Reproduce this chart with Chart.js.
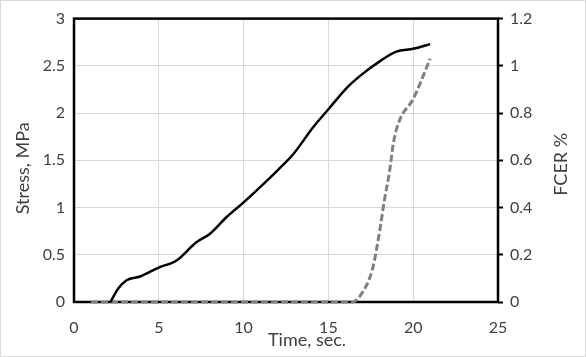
<!DOCTYPE html>
<html>
<head>
<meta charset="utf-8">
<script src="https://cdn.jsdelivr.net/npm/chart.js@4/dist/chart.umd.min.js"></script>
<style>
  html, body { margin: 0; padding: 0; background: #fff; }
  #wrap { width: 586px; height: 357px; position: relative; }
</style>
</head>
<body>
<div id="wrap"><canvas id="chart" width="586" height="357"></canvas></div>
<script>
// stress curve (left axis)
var stressTime = [2.15, 2.6, 3.1, 3.9, 5.0, 6.05, 7.2, 8.0, 9.0, 10.0, 11.35, 12.15, 12.95, 14.1, 15.0, 16.1, 17.05, 18.05, 19.0, 20.0, 21.0];
var stressMPa  = [0, 0.14, 0.23, 0.27, 0.365, 0.44, 0.63, 0.72, 0.90, 1.055, 1.28, 1.42, 1.57, 1.85, 2.04, 2.27, 2.42, 2.55, 2.65, 2.68, 2.73];

// FCER curve (right axis)
var fcerTime = [1.0, 5.0, 10.0, 15.0, 16.4, 17.0, 17.6, 18.0, 18.3, 18.6, 18.85, 19.2, 20.0, 21.0];
var fcerPct  = [0, 0, 0, 0, 0, 0.04, 0.14, 0.29, 0.43, 0.55, 0.68, 0.77, 0.86, 1.03];

var xTicks = [0, 5, 10, 15, 20, 25];
var stressTicks = [0, 0.5, 1, 1.5, 2, 2.5, 3];
var fcerTicks = [0, 0.2, 0.4, 0.6, 0.8, 1, 1.2];

var xTitle = 'Time, sec.';
var yTitle = 'Stress, MPa';
var y2Title = 'FCER %';

var textColor = '#404040';
var gridColor = '#d9d9d9';
var fontFamily = 'Lato, "Open Sans", sans-serif';

function font(size) {
	return { family: fontFamily, size: size };
}

function pts(xs, ys) {
	return xs.map(function(x, i) { return { x: x, y: ys[i] }; });
}

function fixTicks(list) {
	return function(s) { s.ticks = list.map(function(v) { return { value: v }; }); };
}

function plain(v) { return String(v); }

var frame = {
	id: 'frame',
	beforeDraw: function(chart) {
		var c = chart.ctx;
		c.save();
		c.fillStyle = '#fff';
		c.fillRect(0, 0, chart.width, chart.height);
		c.strokeStyle = '#d9d9d9';
		c.lineWidth = 1;
		c.strokeRect(0.5, 0.5, chart.width - 1, chart.height - 1);
		c.restore();
	},
	beforeDatasetsDraw: function(chart) {
		var a = chart.chartArea, c = chart.ctx;
		c.save();
		c.strokeStyle = '#000';
		c.lineWidth = 2.5;
		c.strokeRect(a.left, a.top, a.right - a.left, a.bottom - a.top);
		c.restore();
	},
	// axis titles sit a little off centre in the original, so place them here
	afterDraw: function(chart) {
		var a = chart.chartArea, c = chart.ctx;
		var midY = (a.top + a.bottom) / 2;
		c.save();
		c.fillStyle = textColor;
		c.font = '18px ' + fontFamily;
		c.textAlign = 'center';
		c.textBaseline = 'middle';
		c.fillText(xTitle, (a.left + a.right) / 2 + 21, chart.height - 17);
		c.save();
		c.translate(23, midY + 8);
		c.rotate(-Math.PI / 2);
		c.fillText(yTitle, 0, 0);
		c.restore();
		c.translate(561, midY + 4);
		c.rotate(-Math.PI / 2);
		c.fillText(y2Title, 0, 0);
		c.restore();
	}
};

new Chart(document.getElementById('chart'), {
	type: 'scatter',
	data: {
		datasets: [{
			label: 'Stress',
			data: pts(stressTime, stressMPa),
			yAxisID: 'y',
			showLine: true,
			borderColor: '#000',
			borderWidth: 2.5,
			pointRadius: 0,
			cubicInterpolationMode: 'monotone',
			clip: false
		}, {
			label: 'FCER',
			data: pts(fcerTime, fcerPct),
			yAxisID: 'y2',
			showLine: true,
			borderColor: '#808080',
			borderWidth: 3,
			borderDash: [7, 3],
			pointRadius: 0,
			cubicInterpolationMode: 'monotone',
			clip: false
		}]
	},
	options: {
		responsive: false,
		animation: false,
		layout: { padding: { top: 17, left: 0, right: 0, bottom: 0 } },
		plugins: { legend: { display: false }, tooltip: { enabled: false } },
		scales: {
			x: {
				type: 'linear', min: 0, max: 25,
				afterBuildTicks: fixTicks(xTicks),
				afterFit: function(s) { s.height = 55; },
				grid: { color: gridColor, drawTicks: false },
				border: { display: false },
				ticks: { color: textColor, font: font(16), padding: 16, maxRotation: 0, callback: plain }
			},
			y: {
				type: 'linear', position: 'left', min: 0, max: 3,
				afterBuildTicks: fixTicks(stressTicks),
				afterFit: function(s) { s.width = 74; },
				grid: { color: gridColor, drawTicks: false },
				border: { display: false },
				ticks: { color: textColor, font: font(16), padding: 9, callback: plain }
			},
			y2: {
				type: 'linear', position: 'right', min: 0, max: 1.2,
				afterBuildTicks: fixTicks(fcerTicks),
				afterFit: function(s) { s.width = 88; },
				grid: { drawOnChartArea: false, drawTicks: true, tickLength: 5, tickColor: '#000', tickWidth: 2 },
				border: { display: false },
				ticks: { color: textColor, font: font(16), padding: 7, callback: plain }
			}
		}
	},
	plugins: [frame]
});
</script>
</body>
</html>
